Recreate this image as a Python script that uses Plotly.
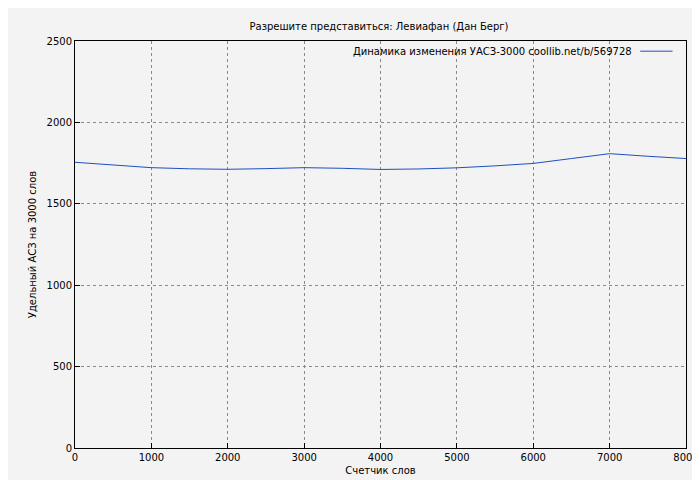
import plotly.graph_objects as go

words = [0, 500, 1000, 1500, 2000, 2500, 3000, 3500, 4000, 4500, 5000, 5500, 6000, 6500, 7000, 7500, 8000]
uasz = [1755, 1740, 1722, 1715, 1712, 1716, 1722, 1718, 1711, 1714, 1721, 1733, 1748, 1778, 1808, 1792, 1778]

title = "Разрешите представиться: Левиафан (Дан Берг)"
legend_text = "Динамика изменения УАСЗ-3000 coollib.net/b/569728"
font = dict(family="DejaVu Sans", size=10, color="black")

fig = go.Figure()
fig.add_trace(go.Scatter(x=words, y=uasz, mode="lines",
                         line=dict(color="#1f4fbf", width=1), showlegend=False))

axis = dict(showgrid=True, gridcolor="#888888", griddash="dot", gridwidth=1,
            showline=True, linecolor="black", linewidth=1, mirror=True,
            ticks="inside", ticklen=5, tickcolor="black", zeroline=False,
            tickfont=font, automargin=False)

fig.update_layout(
    width=700, height=480,
    paper_bgcolor="#f3f3f3", plot_bgcolor="#f3f3f3",
    margin=dict(l=67, r=22, t=33, b=40),
    font=font,
    title=dict(text=title, x=0.53, y=0.968, xanchor="center", font=dict(size=10, family="DejaVu Sans"), automargin=False),
    xaxis=dict(axis, range=[0, 8000], dtick=1000,
               title=dict(text="Счетчик слов", standoff=4, font=font)),
    yaxis=dict(axis, range=[0, 2500], dtick=500,
               title=dict(text="Удельный АСЗ на 3000 слов", standoff=8, font=font)),
)
fig.add_annotation(text=legend_text, xref="paper", yref="paper", x=0.915, y=0.975,
                   xanchor="right", yanchor="middle", showarrow=False, font=font)
fig.add_shape(type="line", xref="paper", yref="paper", x0=0.925, x1=0.978, y0=0.975, y1=0.975,
              line=dict(color="#1f4fbf", width=1))

fig.write_html("out.html")
